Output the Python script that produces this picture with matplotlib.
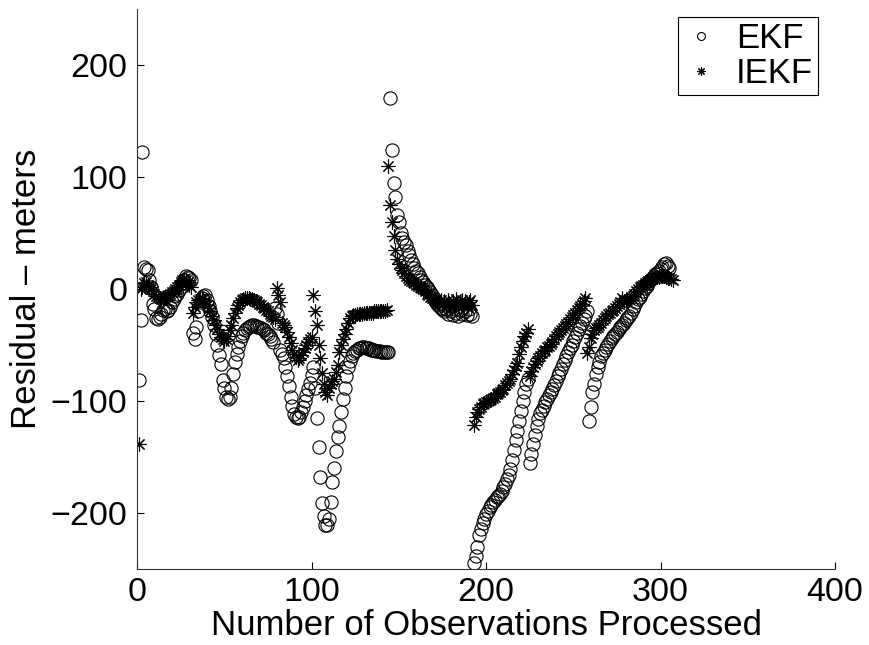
import numpy as np
import matplotlib
matplotlib.use('Agg')
import matplotlib.pyplot as plt

ekf_start_1 = 1
ekf_1 = [-81, -28, 122, 20, 18, 17, 8, 2, -13, -18,
         -26, -27, -25, -22, -19, -18, -20, -19, -16, -12,
         -9, -6, -4, -1, 2, 5, 8, 12, 11, 10,
         8, -39, -45, -34, -20, -12, -8, -6, -5, -10,
         -15, -20, -25, -32, -40, -50, -59, -67, -81, -88,
         -96, -98, -96, -88, -76, -65, -58, -52, -46, -42,
         -39, -37, -35, -34, -33, -32, -32, -33, -34, -34,
         -35, -36, -37, -39, -40, -42, -45, -47, -17, -22,
         -30, -54, -58, -62, -70, -78, -87, -96, -104, -112,
         -114, -115, -114, -110, -105, -100, -95, -89, -84, -77,
         -70, -88, -115, -141, -168, -191, -203, -211, -211, -205,
         -190, -172, -160, -145, -132, -122, -110, -98, -88, -78,
         -70, -64, -60, -57, -55, -54, -53, -53, -52, -52,
         -53, -53, -53, -54, -54, -54, -55, -55, -55, -56,
         -56, -56, -56, -56]
ekf_start_2 = 145
ekf_2 = [171, 124, 95, 82, 66, 60, 50, 46, 42, 39,
         34, 30, 26, 22, 19, 16, 14, 11, 8, 6,
         4, 2, 0, -3, -5, -8, -11, -13, -15, -17,
         -18, -20, -18, -22, -17, -20, -23, -18, -21, -24,
         -19, -22, -16, -20, -23, -18, -22, -24]
ekf_start_3 = 193
ekf_3 = [-245, -238, -230, -220, -214, -209, -205, -201, -198, -195,
         -193, -190, -188, -186, -185, -183, -180, -177, -174, -170,
         -166, -161, -153, -144, -135, -127, -118, -109, -100, -92,
         -85, -80,
         -155, -147, -138, -130, -122, -116, -111, -108, -104, -101,
         -98, -95, -92, -89, -86, -82, -78, -75, -71, -67,
         -63, -60, -56, -53, -50, -46, -43, -39, -36, -33,
         -30, -27, -24, -20,
         -118, -105, -92, -85, -76, -70, -65, -60, -57, -54,
         -52, -49, -46, -44, -42, -40, -38, -36, -34, -32,
         -30, -28, -26, -24, -21, -18, -15, -12, -9, -7,
         -4, -2, 1, 3, 5, 8, 10, 12, 13, 14,
         16, 18, 20, 22, 23, 21, 19]

iekf_start_1 = 1
iekf_1 = [-138, 0, 2, 5, 6, 4, 2, 0, -2, -4,
          -6, -7, -8, -9, -8, -7, -6, -5, -4, -3,
          -2, 0, 2, 4, 6, 8, 9, 8, 6, 4,
          2, -21, -16, -12, -10, -9, -8, -9, -11, -14,
          -17, -20, -24, -28, -32, -36, -40, -43, -45, -46,
          -45, -42, -37, -32, -26, -21, -17, -14, -12, -10,
          -9, -8, -8, -8, -9, -9, -10, -11, -12, -13,
          -14, -16, -17, -19, -20, -22, -24, -25, -27, 1,
          -5, -12, -30, -32, -34, -38, -43, -48, -54, -58,
          -61, -63, -62, -59, -56, -53, -50, -47, -45, -43,
          -5, -20, -32, -50, -62, -75, -85, -92, -95, -88,
          -85, -82, -80, -74, -68, -56, -50, -45, -40, -36,
          -30, -26, -24, -23, -23, -22, -22, -22, -22, -21,
          -21, -21, -21, -21, -21, -20, -20, -20, -20, -20,
          -20, -20, -19]
iekf_start_2 = 144
iekf_2 = [110, 75, 60, 47, 35, 27, 22, 19, 17, 14,
          12, 10, 8, 7, 6, 5, 4, 3, 2, 1,
          0, -2, -4, -5, -7, -8, -9, -10, -12, -13,
          -10, -14, -11, -15, -10, -13, -16, -11, -14, -9,
          -15, -12, -10, -14, -11, -16, -12, -10, -14]
iekf_start_3 = 193
iekf_3 = [-121, -114, -110, -107, -105, -103, -102, -101, -100, -99,
          -98, -97, -96, -94, -93, -92, -90, -89, -86, -84,
          -82, -80, -76, -72, -69, -66, -58, -52, -46, -42,
          -39, -36,
          -78, -73, -70, -67, -64, -62, -60, -57, -55, -54,
          -52, -51, -49, -47, -45, -42, -40, -38, -37, -35,
          -33, -31, -29, -27, -25, -23, -21, -19, -17, -15,
          -13, -11, -8,
          -57, -52, -44, -40, -37, -35, -34, -32, -30, -28,
          -26, -24, -22, -21, -20, -19, -17, -15, -13, -12,
          -8, -11, -10, -10, -9, -7, -6, -4, -2, 0,
          2, 3, 4, 5, 6, 7, 8, 9, 10, 10,
          11, 11, 12, 12, 12, 11, 10, 10, 9, 8]

x_ticks = [0, 100, 200, 300, 400]
y_ticks = [-200, -100, 0, 100, 200]


def series(parts):
    xs, ys = [], []
    for start, vals in parts:
        xs.append(np.arange(start, start + len(vals)))
        ys.append(np.array(vals, dtype=float))
    return np.concatenate(xs), np.concatenate(ys)


ekf_x, ekf_y = series([(ekf_start_1, ekf_1), (ekf_start_2, ekf_2), (ekf_start_3, ekf_3)])
iekf_x, iekf_y = series([(iekf_start_1, iekf_1), (iekf_start_2, iekf_2), (iekf_start_3, iekf_3)])

plt.rcParams['font.family'] = ['Liberation Sans', 'DejaVu Sans']
fig = plt.figure(figsize=(8.69, 6.45), dpi=100)
ax = fig.add_axes([0.1577, 0.1178, 0.8032, 0.8682])

ax.plot(ekf_x, ekf_y, linestyle='none', marker='o', markersize=9.5,
        markerfacecolor='none', markeredgecolor='black', markeredgewidth=0.8, label='EKF')
ax.plot(iekf_x, iekf_y, linestyle='none', marker=(8, 2, 0), markersize=10,
        color='black', markeredgewidth=0.8, label='IEKF')

ax.set_xlim(0, 400)
ax.set_ylim(-250, 250)
ax.set_xticks(x_ticks)
ax.set_yticks(y_ticks)
ax.tick_params(direction='in', length=5, width=0.8, labelsize=24.5)
ax.tick_params(axis='x', pad=6)
ax.tick_params(axis='y', pad=7)
ax.spines['top'].set_visible(False)
ax.spines['right'].set_visible(False)
for s in ('left', 'bottom'):
    ax.spines[s].set_linewidth(0.8)
    ax.spines[s].set_color('#333333')

ax.set_xlabel('Number of Observations Processed', fontsize=25, labelpad=0.5)
ax.set_ylabel('Residual – meters', fontsize=25, labelpad=5)

leg = ax.legend(loc='upper right', bbox_to_anchor=(818 / 869, 1 - 17 / 645),
                bbox_transform=fig.transFigure, borderaxespad=0, fancybox=False,
                edgecolor='black', framealpha=1, fontsize=25, markerscale=0.6,
                handlelength=1.0, handletextpad=0.5, borderpad=0.15, labelspacing=0.05)
leg.get_frame().set_linewidth(0.8)

fig.savefig('out.png', dpi=100)
